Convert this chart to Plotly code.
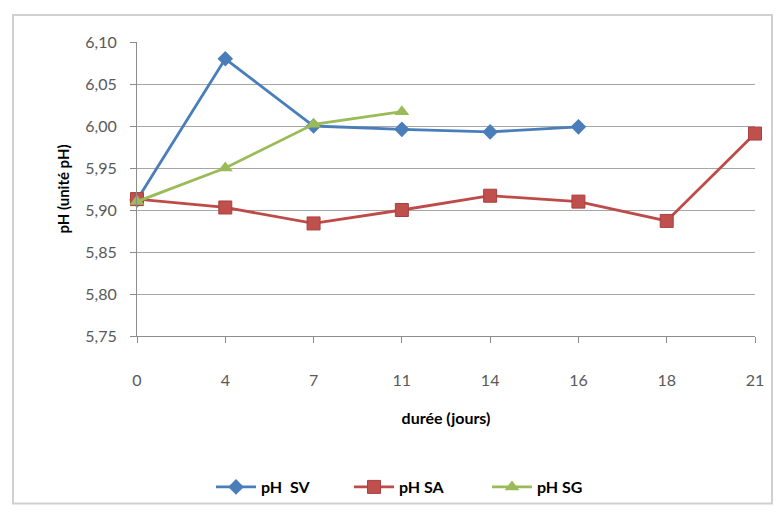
import plotly.graph_objects as go

days = ["0", "4", "7", "11", "14", "16", "18", "21"]
sv_days = ["0", "4", "7", "11", "14", "16"]
sv_vals = [5.912, 6.080, 6.000, 5.996, 5.993, 5.999]
sa_days = ["0", "4", "7", "11", "14", "16", "18", "21"]
sa_vals = [5.913, 5.903, 5.884, 5.900, 5.917, 5.910, 5.887, 5.991]
sg_days = ["0", "4", "7", "11"]
sg_vals = [5.910, 5.950, 6.002, 6.017]
y_ticks = [5.75, 5.80, 5.85, 5.90, 5.95, 6.00, 6.05, 6.10]
y_labels = ["5,75", "5,80", "5,85", "5,90", "5,95", "6,00", "6,05", "6,10"]

FONT = "Lato"
fig = go.Figure()
fig.add_trace(go.Scatter(x=sv_days, y=sv_vals, name="pH  SV", mode="lines+markers",
                         line=dict(color="#4A7EBB", width=2.8),
                         marker=dict(symbol="diamond", size=12, color="#4A7EBB"),
                         cliponaxis=False))
fig.add_trace(go.Scatter(x=sa_days, y=sa_vals, name="pH SA", mode="lines+markers",
                         line=dict(color="#BE4B48", width=2.8),
                         marker=dict(symbol="square", size=13, color="#C0504D",
                                     line=dict(color="#A8403D", width=1)),
                         cliponaxis=False))
fig.add_trace(go.Scatter(x=sg_days, y=sg_vals, name="pH SG", mode="lines+markers",
                         line=dict(color="#9BBB59", width=2.8),
                         marker=dict(symbol="triangle-up", size=13, color="#9BBB59"),
                         cliponaxis=False))

l, r, t, b = 137, 25, 42, 178
W, H = 780, 515
pw, ph = W - l - r, H - t - b
def px(x): return (x - l) / pw
def py(y): return (H - b - y) / ph

fig.update_layout(
    width=W, height=H,
    margin=dict(l=l, r=r, t=t, b=b),
    paper_bgcolor="white", plot_bgcolor="white",
    font=dict(family=FONT, color="#595959", size=16),
    showlegend=True,
    legend=dict(orientation="h", x=px(418), xanchor="center", y=py(487), yanchor="middle",
                bgcolor="rgba(0,0,0,0)",
                font=dict(family=FONT, size=16, color="#000000", weight="bold"),
                itemwidth=40, tracegroupgap=0, entrywidth=83, entrywidthmode="pixels"),
    xaxis=dict(type="category", categoryorder="array", categoryarray=days,
               range=[0, 7], showgrid=False, showline=True, linecolor="#8C8C8C",
               linewidth=1, ticks="outside", ticklen=6, tickcolor="#8C8C8C",
               ticklabelstandoff=24,
               tickfont=dict(family=FONT, size=16, color="#595959"),
               title=dict(text="durée (jours)", font=dict(family=FONT, size=16, color="#000000", weight="bold"),
                          standoff=24),
               zeroline=False),
    yaxis=dict(range=[5.75, 6.10], tickvals=y_ticks, ticktext=y_labels,
               showgrid=True, gridcolor="#A6A6A6", gridwidth=1,
               showline=True, linecolor="#8C8C8C", linewidth=1,
               ticks="outside", ticklen=6, tickcolor="#8C8C8C",
               ticklabelstandoff=10,
               tickfont=dict(family=FONT, size=16, color="#595959"),
               title=dict(text="pH (unité pH)", font=dict(family=FONT, size=15, color="#000000", weight="bold"),
                          standoff=12),
               zeroline=False),
    shapes=[dict(type="rect", xref="paper", yref="paper",
                 x0=px(13), x1=px(772), y0=py(505), y1=py(15),
                 line=dict(color="#D0D0D0", width=2), layer="below")],
)
fig.write_html("out.html")
